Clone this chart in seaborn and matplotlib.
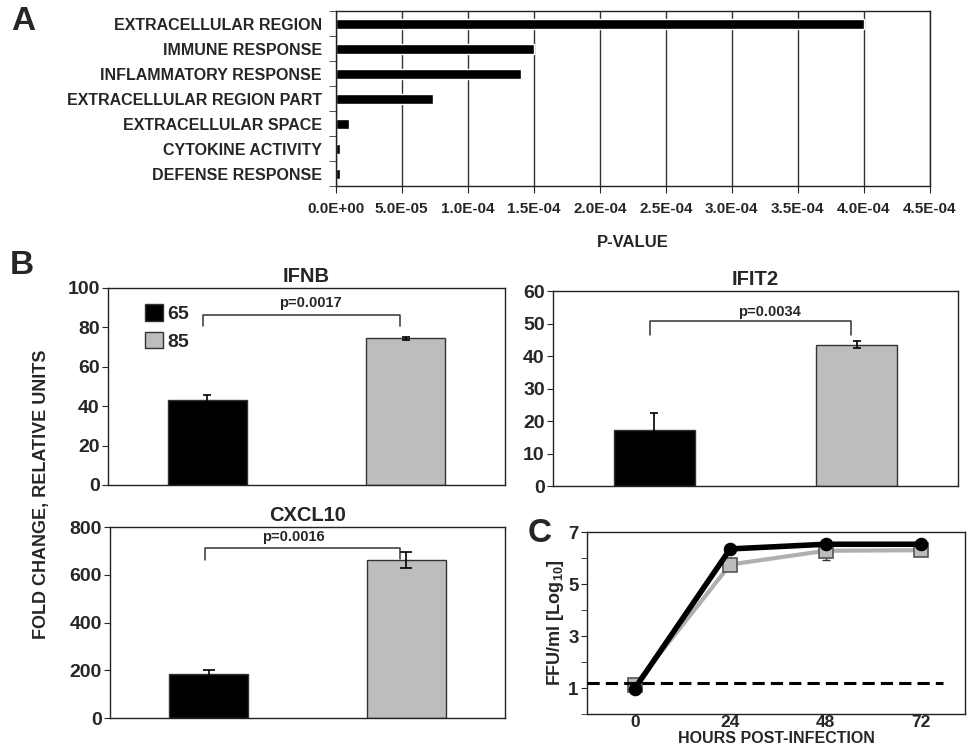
import matplotlib
matplotlib.use("Agg")
import matplotlib.pyplot as plt
import matplotlib.ticker as mticker
from matplotlib.patches import Patch
import seaborn as sns
import pandas as pd

# panel A: GO terms and their p-values
go_terms = ["EXTRACELLULAR REGION", "IMMUNE RESPONSE", "INFLAMMATORY RESPONSE",
            "EXTRACELLULAR REGION PART", "EXTRACELLULAR SPACE",
            "CYTOKINE ACTIVITY", "DEFENSE RESPONSE"]
p_values = [4.0e-4, 1.5e-4, 1.4e-4, 7.4e-5, 1.0e-5, 3.3e-6, 3.5e-6]

# panel B: fold change per group
groups = ["65", "85"]
ifnb_mean = [43.0, 74.5]
ifnb_err = [2.5, 0.7]
ifit2_mean = [17.2, 43.5]
ifit2_err = [5.2, 1.0]
cxcl10_mean = [186.0, 661.0]
cxcl10_err = [15.0, 34.0]
p_labels = ["p=0.0017", "p=0.0034", "p=0.0016"]

# panel C: growth curves
hours = [0, 24, 48, 72]
titer_65 = [0.98, 6.35, 6.53, 6.53]
titer_65_err = [0.05, 0.05, 0.08, 0.05]
titer_85 = [1.10, 5.75, 6.28, 6.30]
titer_85_err = [0.05, 0.10, 0.34, 0.10]
detection_limit = 1.2

sns.set_style("ticks")
plt.rcParams["font.family"] = ["Liberation Sans", "DejaVu Sans"]
plt.rcParams["font.weight"] = "bold"
plt.rcParams["mathtext.fontset"] = "custom"
plt.rcParams["mathtext.rm"] = "Liberation Sans:bold"
plt.rcParams["mathtext.default"] = "rm"

BAR_COLORS = ["#000000", "#bdbdbd"]
EDGE = "#333333"

fig = plt.figure(figsize=(9.68, 7.54), dpi=100)


def frame(ax, lw=1.0):
    for s in ax.spines.values():
        s.set_visible(True)
        s.set_color("#222222")
        s.set_linewidth(lw)


# ---------------- A ----------------
axA = fig.add_axes([0.3468, 0.7527, 0.6139, 0.2327])
dfA = pd.DataFrame({"term": go_terms, "p": p_values})
sns.barplot(data=dfA, x="p", y="term", color="black", width=0.4,
            saturation=1, ax=axA)
axA.set_xlim(0, 4.5e-4)
axA.xaxis.set_major_locator(mticker.MultipleLocator(5e-5))
axA.xaxis.set_major_formatter(mticker.FuncFormatter(lambda v, p: "{:.1E}".format(v)))
axA.grid(axis="x", color="#333333", lw=1.0)
axA.set_axisbelow(True)
axA.set_ylabel("")
axA.set_xlabel("P-VALUE", fontsize=12, fontweight="bold", labelpad=14)
axA.set_yticks(range(len(go_terms)))
axA.set_yticks([i + 0.5 for i in range(-1, len(go_terms))], minor=True)
axA.tick_params(axis="y", which="major", length=0, pad=10, labelsize=11.5)
axA.tick_params(axis="y", which="minor", length=5, direction="out", color="#333333")
axA.tick_params(axis="x", length=5, direction="out", labelsize=11, pad=6)
frame(axA)


# ---------------- B ----------------
def bar_panel(rect, title, means, errs, ymax, ystep, bracket, p_text, p_y,
              p_x=0.47, capsize=3):
    ax = fig.add_axes(rect)
    df = pd.DataFrame({"group": groups, "value": means})
    sns.barplot(data=df, x="group", y="value", hue="group", palette=BAR_COLORS,
                width=0.4, saturation=1, edgecolor=EDGE, linewidth=1,
                legend=False, ax=ax)
    ax.errorbar(range(len(groups)), means, yerr=errs, fmt="none",
                ecolor="black", elinewidth=1.2, capsize=capsize, capthick=1.2)
    ax.set_xlim(-0.5, 1.5)
    ax.set_ylim(0, ymax)
    ax.yaxis.set_major_locator(mticker.MultipleLocator(ystep))
    ax.set_xticks([])
    ax.set_xlabel("")
    ax.set_ylabel("")
    ax.tick_params(axis="y", length=4, direction="out", labelsize=14, pad=2)
    ax.set_title(title, fontsize=14.5, fontweight="bold", pad=4)
    lo_l, hi, lo_r = bracket
    ax.plot([-0.02, -0.02, 0.97, 0.97], [lo_l, hi, hi, lo_r],
            color="#333333", lw=1.1, solid_joinstyle="round")
    ax.text(p_x, p_y, p_text, ha="center", va="center", fontsize=10.5,
            fontweight="bold")
    frame(ax)
    return ax


axB1 = bar_panel([0.1116, 0.3568, 0.4101, 0.2613], "IFNB", ifnb_mean, ifnb_err,
                 100, 20, (80.7, 86.3, 80.7), p_labels[0], 92.5, p_x=0.52)
axB1.legend(handles=[Patch(facecolor=c, edgecolor=EDGE, label=g)
                     for c, g in zip(BAR_COLORS, groups)],
            loc="upper left", bbox_to_anchor=(0.05, 1.005), frameon=False,
            handlelength=0.9, handleheight=0.9, handletextpad=0.25,
            labelspacing=0.45, prop={"size": 14, "weight": "bold"})

axB2 = bar_panel([0.5713, 0.3554, 0.4184, 0.2586], "IFIT2", ifit2_mean, ifit2_err,
                 60, 10, (46.5, 50.8, 46.5), p_labels[1], 53.4, p_x=0.57)

axB3 = bar_panel([0.1136, 0.0477, 0.4081, 0.2533], "CXCL10", cxcl10_mean, cxcl10_err,
                 800, 200, (661, 714, 668), p_labels[2], 757, p_x=0.43, capsize=4)

fig.text(0.043, 0.345, "FOLD CHANGE, RELATIVE UNITS", rotation=90,
         ha="center", va="center", fontsize=13, fontweight="bold")

# ---------------- C ----------------
axC = fig.add_axes([0.6064, 0.0530, 0.3905, 0.2414])
dfC = pd.DataFrame({"hours": hours * 2,
                    "titer": titer_85 + titer_65,
                    "group": ["85"] * 4 + ["65"] * 4})
sns.lineplot(data=dfC[dfC.group == "85"], x="hours", y="titer", color="#b0b0b0",
             lw=3, marker="s", markersize=10, markerfacecolor="#bcbcbc",
             markeredgecolor="#555555", markeredgewidth=1.2, ax=axC)
axC.errorbar(hours, titer_85, yerr=titer_85_err, fmt="none", ecolor="#333333",
             elinewidth=1, capsize=3, zorder=1)
sns.lineplot(data=dfC[dfC.group == "65"], x="hours", y="titer", color="black",
             lw=4, marker="o", markersize=9, markerfacecolor="black",
             markeredgecolor="black", ax=axC)
axC.errorbar(hours, titer_65, yerr=titer_65_err, fmt="none", ecolor="black",
             elinewidth=1, capsize=3, zorder=1)
axC.hlines(detection_limit, -12, 77.5, colors="black", linestyles=(0, (4, 2)),
           lw=2.2, zorder=5)
axC.set_xlim(-12, 83)
axC.set_ylim(0, 7)
axC.set_xticks(hours)
axC.set_yticks([1, 3, 5, 7])
axC.set_yticks([0, 2, 4, 6], minor=True)
axC.tick_params(axis="x", length=0, labelsize=12.5, pad=1)
axC.tick_params(axis="y", which="both", length=4, direction="out", labelsize=13.5, pad=2)
axC.set_xlabel("HOURS POST-INFECTION", fontsize=11.5, fontweight="bold", labelpad=0.5)
axC.set_ylabel(r"FFU/ml [Log$_{10}$]", fontsize=13, fontweight="bold", labelpad=2)
frame(axC)

# panel letters
fig.text(0.024, 0.971, "A", fontsize=24, fontweight="bold", ha="center", va="center")
fig.text(0.023, 0.648, "B", fontsize=24, fontweight="bold", ha="center", va="center")
fig.text(0.557, 0.292, "C", fontsize=24, fontweight="bold", ha="center", va="center")

fig.savefig("out.png", dpi=100, facecolor="white")
